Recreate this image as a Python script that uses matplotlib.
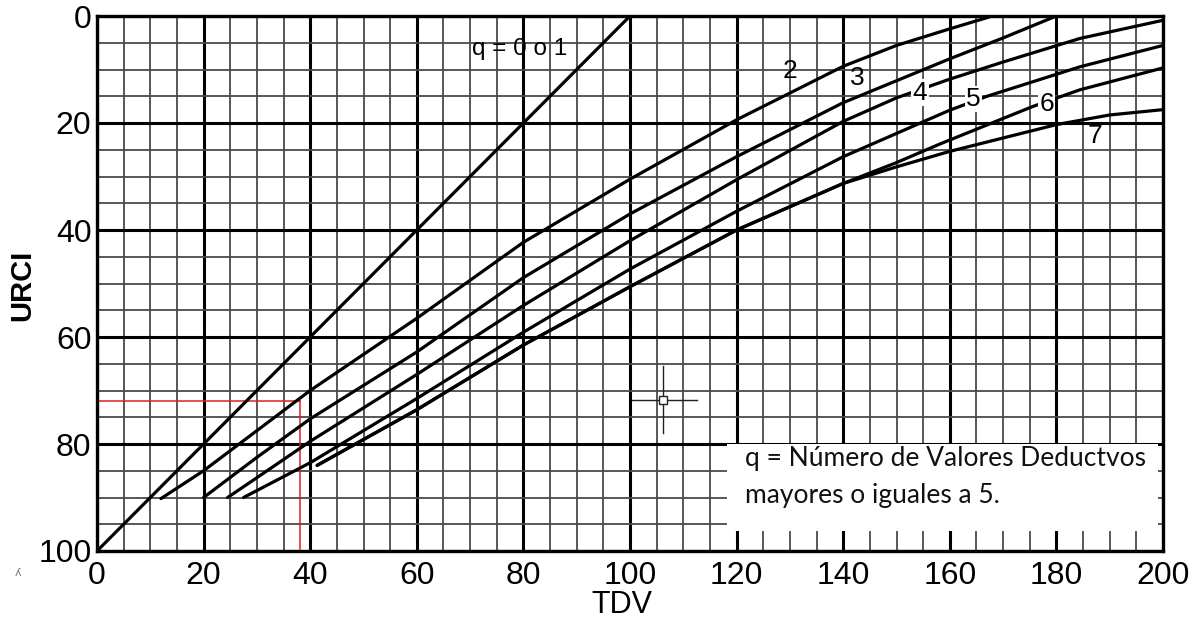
import matplotlib
matplotlib.use("Agg")
import matplotlib.pyplot as plt
from matplotlib.ticker import MultipleLocator
from matplotlib.patches import Rectangle

# Curve readings: TDV (x) vs URCI (y), one curve per number of deduct values q
tdv_q1 = [0, 100]
urci_q1 = [100, 0]

tdv_q2 = [12, 20, 40, 60, 80, 100, 120, 132, 140, 150, 160, 168]
urci_q2 = [90.2, 85, 70, 56.5, 42.3, 30.5, 19.4, 13.4, 9.4, 5.5, 2.4, 0]

tdv_q3 = [20, 30, 40, 60, 80, 100, 120, 140, 160, 170, 180]
urci_q3 = [90, 82.5, 75.3, 62.8, 48.9, 37, 26.3, 16.2, 8, 4.1, 0]

tdv_q4 = [24.5, 30, 40, 60, 80, 100, 120, 140, 150, 160, 170, 184.4, 200]
urci_q4 = [90, 86.3, 79.5, 67, 54.1, 42, 30.6, 19.7, 15.3, 11.8, 8.6, 4.2, 0.8]

tdv_q5 = [27.5, 40, 60, 80, 100, 120, 140, 160, 167, 184.4, 200]
urci_q5 = [90, 83.5, 71.5, 59.1, 47.3, 36.5, 26.3, 17.6, 15.0, 9.5, 5.5]

tdv_q6 = [41.3, 60, 80, 100, 120, 140, 150, 158.2, 175.6, 184.4, 200]
urci_q6 = [84, 73.6, 61.5, 50.6, 40, 31.3, 27.4, 23.9, 16.9, 13.8, 9.7]

tdv_q7 = [41.3, 60, 80, 100, 120, 140, 150, 160, 180, 190, 200]
urci_q7 = [84, 73.6, 61.5, 50.6, 40, 31.3, 28.2, 25.3, 20.3, 18.5, 17.5]

curve_labels = ["q = 0 o 1", "2", "3", "4", "5", "6", "7"]
label_tdv = [79.3, 130, 142.6, 154.4, 164.4, 178.2, 187.2]
label_urci = [6.2, 10.3, 11.6, 14.3, 15.5, 16.5, 22.4]

x_ticks = list(range(0, 201, 20))
y_ticks = list(range(0, 101, 20))

# Worked example read-off (red guide lines)
example_tdv = 38
example_urci = 72

note_lines = ["q = Número de Valores Deductvos", "mayores o iguales a 5."]

fig = plt.figure(figsize=(11.98, 6.21), dpi=100)
ax = fig.add_axes([97 / 1198, 1 - 551 / 621, (1163 - 97) / 1198, (551 - 16) / 621])

ax.set_xlim(0, 200)
ax.set_ylim(100, 0)

ax.xaxis.set_minor_locator(MultipleLocator(5))
ax.yaxis.set_minor_locator(MultipleLocator(5))
ax.set_xticks(x_ticks)
ax.set_yticks(y_ticks)

ax.grid(which="minor", color="#4a4a4a", linewidth=1.3, zorder=0)
ax.grid(which="major", color="black", linewidth=2.2, zorder=0)
ax.set_axisbelow(True)

for s in ax.spines.values():
    s.set_linewidth(2.4)
    s.set_color("black")

ax.tick_params(which="both", length=0)
ax.tick_params(axis="x", pad=7, labelsize=23)
ax.tick_params(axis="y", pad=4, labelsize=23)
for lab in ax.get_xticklabels() + ax.get_yticklabels():
    lab.set_fontfamily("Liberation Sans")

# White panel holding the note on q
ax.add_patch(Rectangle((118.2, 80), 80.8, 16.2, facecolor="white",
                       edgecolor="none", zorder=1.5))

curves = [(tdv_q1, urci_q1), (tdv_q2, urci_q2), (tdv_q3, urci_q3),
          (tdv_q4, urci_q4), (tdv_q5, urci_q5), (tdv_q6, urci_q6),
          (tdv_q7, urci_q7)]
for xs, ys in curves:
    ax.plot(xs, ys, color="black", linewidth=2.3, solid_capstyle="round",
            solid_joinstyle="round", zorder=3)

for i, (txt, lx, ly) in enumerate(zip(curve_labels, label_tdv, label_urci)):
    boxed = i in (3, 4, 5)
    ax.text(lx, ly, txt, fontsize=19 if i else 17.5, family="Liberation Sans",
            ha="center", va="center", zorder=4,
            bbox=dict(facecolor="white", edgecolor="none", pad=1.0) if boxed else None)

# Red guide lines for the example reading
ax.plot([0, example_tdv], [example_urci, example_urci], color="#e02020",
        linewidth=1.1, zorder=2.5)
ax.plot([example_tdv, example_tdv], [example_urci, 100], color="#e02020",
        linewidth=1.1, zorder=2.5)

# Crosshair pointer
cx, cy = 106.2, 71.7
ax.plot([100.4, 112.6], [cy, cy], color="#222222", linewidth=1.0, zorder=4)
ax.plot([cx, cx], [65.5, 77.9], color="#222222", linewidth=1.0, zorder=4)
ax.plot([cx], [cy], marker="s", markersize=6, markerfacecolor="white",
        markeredgecolor="#222222", markeredgewidth=1.0, zorder=5)

ax.text(121.6, 82.8, note_lines[0], fontsize=19, family="Lato",
        ha="left", va="center", color="#111111", zorder=4)
ax.text(121.6, 89.7, note_lines[1], fontsize=19, family="Lato",
        ha="left", va="center", color="#111111", zorder=4)

fig.text(22 / 1198, 1 - 285 / 621, "URCI", rotation=90, fontsize=21,
         fontweight="bold", family="Liberation Sans", ha="center", va="center")
fig.text(622 / 1198, 1 - 605 / 621, "TDV", fontsize=22,
         family="Liberation Sans", ha="center", va="center")
fig.text(18 / 1198, 1 - 573 / 621, "ʎ", fontsize=8, color="#777777",
         ha="center", va="center")

fig.savefig("out.png", dpi=100, facecolor="white")
